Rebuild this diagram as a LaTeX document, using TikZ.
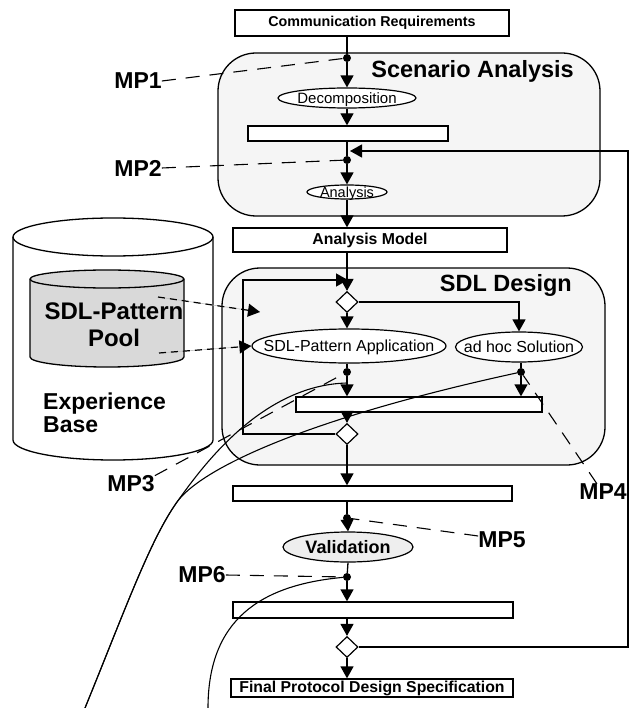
\documentclass[tikz,border=0pt]{standalone}
\usepackage{fontspec}
\setmainfont{Liberation Sans}
\usetikzlibrary{arrows.meta,shapes.geometric,calc}
\definecolor{boxfill}{HTML}{F5F5F5}
\definecolor{poolfill}{HTML}{D9D9D9}
\definecolor{valfill}{HTML}{EEEEEE}
\newcommand{\ctext}[1]{\makebox[0pt]{\smash{\raisebox{-0.35em}{#1}}}}
\begin{document}
\begin{tikzpicture}[x=1pt,y=-1pt,
  flow/.style={line width=1.3pt},
  arr/.style={flow,-{Triangle[width=13pt,length=12pt]}},
  fbox/.style={draw,line width=1.3pt,fill=white,rectangle,inner sep=0pt},
  foval/.style={draw,line width=1.2pt,fill=white,ellipse,inner sep=0pt},
  fdia/.style={draw,line width=1.2pt,fill=white,diamond,inner sep=0pt,minimum width=22pt,minimum height=21pt},
  mdot/.style={circle,fill=black,inner sep=0pt,minimum size=8pt},
  mplabel/.style={font=\fontsize{23}{26}\selectfont\bfseries,inner sep=0pt},
  mpline/.style={line width=1.1pt,dash pattern=on 14pt off 10pt},
  grp/.style={draw,line width=1.3pt,fill=boxfill,rounded corners=38pt,inner sep=0pt},
  grptitle/.style={font=\fontsize{23.5}{26}\selectfont\bfseries,inner sep=0pt,anchor=east},
  curv/.style={line width=1.1pt},
  darr/.style={line width=1.2pt,dash pattern=on 7pt off 5pt,-{Triangle[width=13pt,length=12pt]},
    preaction={draw,gray!50,line width=0.6pt,solid,-}},
  cyl/.style={line width=1.3pt}
]
\useasboundingbox (0,0) rectangle (632,708);

% group boxes
\node[grp,minimum width=382pt,minimum height=163pt] (sa) at (409,134.5) {};
\node[grp,minimum width=383pt,minimum height=197pt] (sdl) at (413.5,366.5) {};
\node[grptitle] (satitle) at (574,71) {Scenario Analysis};
\node[grptitle] (sdltitle) at (572,285) {SDL Design};

% experience base cylinder
\draw[cyl,fill=white] (13,237) -- (13,440) arc[start angle=180,end angle=0,x radius=100,y radius=20] -- (213,237);
\draw[cyl] (113,237) ellipse[x radius=100,y radius=19];
\draw[cyl,fill=poolfill] (30,279) -- (30,357) arc[start angle=180,end angle=0,x radius=77,y radius=10]
  -- (184,279) arc[start angle=0,end angle=-180,x radius=77,y radius=9] -- cycle;
\draw[cyl] (30,279) arc[start angle=180,end angle=0,x radius=77,y radius=9];
\node[font=\fontsize{24}{27}\selectfont\bfseries,align=center,inner sep=0pt] (pooltxt) at (114,325) {SDL-Pattern\\Pool};
\node[font=\fontsize{23}{23}\selectfont\bfseries,align=left,anchor=west,inner sep=0pt] (ebtxt) at (43,413) {Experience\\Base};

% flow nodes
\node[fbox,minimum width=274pt,minimum height=26pt,font=\fontsize{14.3}{16}\selectfont\bfseries] (cr) at (372,23) {Communication Requirements};
\node[mdot] (dot1) at (347,58) {};
\node[foval,minimum width=138pt,minimum height=20pt,font=\fontsize{15}{17}\selectfont] (dec) at (347,98) {\ctext{Decomposition}};
\node[fbox,minimum width=200pt,minimum height=15pt] (bar1) at (348,133.5) {};
\node[mdot] (dot2) at (347,160) {};
\node[foval,minimum width=80pt,minimum height=14pt,font=\fontsize{14.5}{16}\selectfont] (ana) at (347,192) {\ctext{Analysis}};
\node[fbox,minimum width=274pt,minimum height=24pt,font=\fontsize{15.8}{18}\selectfont\bfseries] (am) at (370,240) {Analysis Model};
\node[fdia] (d1) at (347,302) {};
\node[foval,minimum width=194pt,minimum height=34pt,font=\fontsize{16}{18}\selectfont] (spa) at (349,346) {\ctext{SDL-Pattern Application}};
\node[foval,minimum width=127pt,minimum height=30pt,font=\fontsize{16}{18}\selectfont] (adhoc) at (519,347) {\ctext{ad hoc Solution}};
\node[mdot] (dot3) at (347,372) {};
\node[mdot] (dot4) at (521,372) {};
\node[fbox,minimum width=246pt,minimum height=15pt] (bar2) at (419,404.5) {};
\node[fdia] (d2) at (347,434) {};
\node[fbox,minimum width=279pt,minimum height=15pt] (bar3) at (372.5,493.5) {};
\node[mdot] (dot5) at (347,518) {};
\node[foval,fill=valfill,minimum width=130pt,minimum height=30pt,font=\fontsize{18}{20}\selectfont\bfseries] (val) at (348,547) {\ctext{Validation}};
\node[mdot] (dot6) at (347,577) {};
\node[fbox,minimum width=280pt,minimum height=16pt] (bar4) at (373,610) {};
\node[fdia] (d3) at (347,647) {};
\node[fbox,minimum width=282pt,minimum height=18pt,font=\fontsize{15.8}{18}\selectfont\bfseries] (fp) at (372,688) {Final Protocol Design Specification};

% MP labels
\node[mplabel] (MP1) at (138,81) {MP1};
\node[mplabel] (MP2) at (138,168) {MP2};
\node[mplabel] (MP3) at (131,484) {MP3};
\node[mplabel] (MP4) at (603,492) {MP4};
\node[mplabel] (MP5) at (502,540) {MP5};
\node[mplabel] (MP6) at (202,575) {MP6};

% coordinates
\coordinate (lpA) at (243,434);
\coordinate (lpB) at (243,280);
\coordinate (lpC) at (348,280);
\coordinate (fbA) at (628,647);
\coordinate (fbB) at (628,151);
\coordinate (fbC) at (350,151);
\coordinate (rA) at (519,302);
\coordinate (pa1) at (158,297);
\coordinate (pt1) at (260,312);
\coordinate (pa2) at (159,353);
\coordinate (cA0) at (85,708);
\coordinate (cAm) at (177,502);
\coordinate (cAe) at (347,383);
\coordinate (cC0) at (208,708);

% main flow
\draw[flow] (dot1 |- cr.south) -- (dot1);
\draw[arr] (dot1) -- (dec.north);
\draw[arr] (dec.south) -- (dec.south |- bar1.north);
\draw[flow] (dot2 |- bar1.south) -- (dot2);
\draw[arr] (dot2) -- (ana.north);
\draw[arr] (ana.south) -- (ana.south |- am.north);
\draw[arr] (ana.south |- am.south) -- (d1.north);
\draw[arr] (d1.south) -- (d1.south |- spa.north);
\draw[arr] (d1.east) -- (rA) -- (adhoc.north);
\draw[flow] (dot3 |- spa.south) -- (dot3);
\draw[arr] (dot3) -- (dot3 |- bar2.north);
\draw[flow] (dot4 |- adhoc.south) -- (dot4);
\draw[arr] (dot4) -- (dot4 |- bar2.north);
\draw[arr] (dot3 |- bar2.south) -- (d2.north);
\draw[arr] (d2.west) -- (lpA) -- (lpB) -- (lpC);
\draw[arr] (d2.south) -- (d2.south |- bar3.north);
\draw[flow] (dot5 |- bar3.south) -- (dot5);
\draw[arr] (dot5) -- (val.north);
\draw[flow] (val.south) -- (dot6);
\draw[arr] (dot6) -- (dot6 |- bar4.north);
\draw[arr] (dot6 |- bar4.south) -- (d3.north);
\draw[arr] (d3.south) -- (d3.south |- fp.north);
\draw[arr] (d3.east) -- (fbA) -- (fbB) -- (fbC);

% pool arrows
\draw[darr] (pa1) -- (pt1);
\draw[darr] (pa2) -- (spa.west);

% MP lines
\draw[mpline] (MP1.east) -- (dot1);
\draw[mpline] (MP2.east) -- (dot2);
\draw[mpline] (MP3.north east) -- (dot3);
\draw[mpline] ([xshift=-6pt]MP4.north) -- (dot4);
\draw[mpline] ([yshift=4pt]MP5.west) -- (dot5);
\draw[mpline] (MP6.east) -- (dot6);

% curves
\draw[curv] (cA0) .. controls (125,610) and (150,540) .. (cAm)
  .. controls (200,470) and (260,385) .. (cAe);
\draw[curv] (cA0) .. controls (125,610) and (150,540) .. (cAm)
  .. controls (200,470) and (300,420) .. (dot4);
\draw[curv] (cC0) .. controls (208,620) and (260,585) .. (dot6);
\end{tikzpicture}
\end{document}
